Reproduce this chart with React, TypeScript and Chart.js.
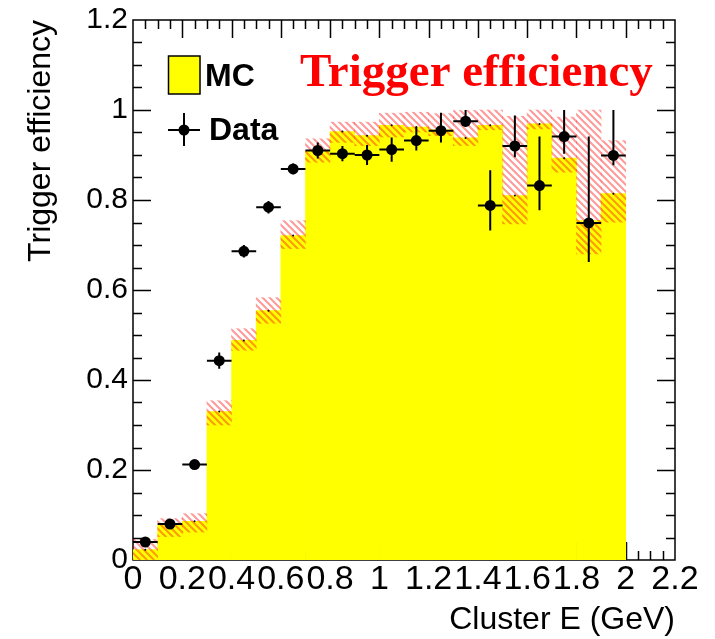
import React, { useEffect, useRef } from "react";
import { Chart, registerables } from "chart.js";

Chart.register(...registerables);

// ---- data ----
const binCenters = [0.05, 0.15, 0.25, 0.35, 0.45, 0.55, 0.65, 0.75, 0.85, 0.95, 1.05, 1.15, 1.25, 1.35, 1.45, 1.55, 1.65, 1.75, 1.85, 1.95];
const binHalfWidth = 0.05;

const mcEff = [0.023, 0.077, 0.086, 0.330, 0.488, 0.554, 0.721, 0.908, 0.952, 0.943, 0.966, 0.962, 0.956, 0.938, 0.966, 0.810, 0.969, 0.893, 0.754, 0.814];
const mcBandLow = [0.001, 0.052, 0.062, 0.300, 0.466, 0.526, 0.692, 0.884, 0.928, 0.921, 0.940, 0.951, 0.943, 0.921, 0.956, 0.747, 0.958, 0.862, 0.680, 0.751];
const mcBandHigh = [0.046, 0.092, 0.103, 0.354, 0.514, 0.583, 0.754, 0.936, 0.973, 0.973, 0.993, 0.995, 0.992, 0.999, 1.0, 0.986, 1.0, 0.984, 1.0, 0.932];

const dataEff = [0.040, 0.080, 0.212, 0.443, 0.686, 0.784, 0.869, 0.910, 0.903, 0.900, 0.912, 0.932, 0.954, 0.975, 0.788, 0.920, 0.832, 0.941, 0.749, 0.899];
const dataErrLow = [0.010, 0.006, 0.006, 0.018, 0.014, 0.014, 0.012, 0.018, 0.017, 0.022, 0.027, 0.022, 0.026, 0.013, 0.056, 0.025, 0.055, 0.038, 0.087, 0.022];
const dataErrHigh = [0.010, 0.006, 0.006, 0.018, 0.014, 0.014, 0.012, 0.018, 0.017, 0.022, 0.027, 0.030, 0.040, 0.025, 0.078, 0.068, 0.109, 0.059, 0.192, 0.101];

const xMin = 0, xMax = 2.2, xStep = 0.2, xMinor = 0.05;
const yMin = 0, yMax = 1.2, yStep = 0.2, yMinor = 0.05;

const titleText = "Trigger efficiency";
const xTitle = "Cluster E (GeV)";
const yTitle = "Trigger efficiency";
const legendMC = "MC";
const legendData = "Data";

const SANS = "'Liberation Sans', Arial, Helvetica, sans-serif";
const SERIF = "'Liberation Serif', 'Times New Roman', serif";

function makeHatch(): CanvasPattern | string {
  const s = 7;
  const c = document.createElement("canvas");
  c.width = s;
  c.height = s;
  const g = c.getContext("2d");
  if (!g) return "rgba(255,0,0,0.3)";
  g.strokeStyle = "rgba(255,0,0,0.4)";
  g.lineWidth = 2;
  g.beginPath();
  for (let k = -1; k <= 1; k++) {
    g.moveTo(k * s - 1, -1);
    g.lineTo(k * s + s + 1, s + 1);
  }
  g.stroke();
  return g.createPattern(c, "repeat") || "rgba(255,0,0,0.3)";
}

const framePlugin = {
  id: "rootFrame",
  beforeDatasetsDraw(chart: any) {
    const { ctx, chartArea, scales } = chart;
    const { left, right, top, bottom } = chartArea;
    const x = scales.x, y = scales.y;
    ctx.save();
    ctx.strokeStyle = "#000";
    ctx.lineWidth = 1.5;
    ctx.strokeRect(left, top, right - left, bottom - top);
    ctx.beginPath();
    const nY = Math.round((yMax - yMin) / yMinor);
    for (let k = 1; k < nY; k++) {
      const v = yMin + k * yMinor;
      const py = Math.round(y.getPixelForValue(v)) + 0.5;
      const major = k % Math.round(yStep / yMinor) === 0;
      const len = major ? 18 : 9;
      ctx.moveTo(left, py); ctx.lineTo(left + len, py);
      ctx.moveTo(right, py); ctx.lineTo(right - len, py);
    }
    const nX = Math.round((xMax - xMin) / xMinor);
    for (let k = 1; k < nX; k++) {
      const v = xMin + k * xMinor;
      const px = Math.round(x.getPixelForValue(v)) + 0.5;
      const major = k % Math.round(xStep / xMinor) === 0;
      const len = major ? 18 : 9;
      ctx.moveTo(px, top); ctx.lineTo(px, top + len);
      ctx.moveTo(px, bottom); ctx.lineTo(px, bottom - len);
    }
    ctx.stroke();
    ctx.restore();
  },
};

const errorBarPlugin = {
  id: "dataErrors",
  beforeDatasetDraw(chart: any, args: any) {
    const ds = chart.data.datasets[args.index];
    if (ds.label !== legendData) return;
    const { ctx, scales } = chart;
    const x = scales.x, y = scales.y;
    ctx.save();
    ctx.strokeStyle = "#000";
    ctx.lineWidth = 2;
    ctx.beginPath();
    dataEff.forEach((v, i) => {
      const c = binCenters[i];
      const cx = x.getPixelForValue(c);
      const cy = y.getPixelForValue(v);
      ctx.moveTo(x.getPixelForValue(c - binHalfWidth), cy);
      ctx.lineTo(x.getPixelForValue(c + binHalfWidth), cy);
      ctx.moveTo(cx, y.getPixelForValue(v - dataErrLow[i]));
      ctx.lineTo(cx, y.getPixelForValue(v + dataErrHigh[i]));
    });
    ctx.stroke();
    ctx.restore();
  },
};

const overlayPlugin = {
  id: "overlayText",
  afterDraw(chart: any) {
    const { ctx } = chart;
    ctx.save();
    // title
    ctx.fillStyle = "#ff0000";
    ctx.font = `bold 47px ${SERIF}`;
    ctx.textAlign = "left";
    ctx.textBaseline = "alphabetic";
    ctx.fillText(titleText, 300, 86);
    // legend MC
    ctx.fillStyle = "#ffff00";
    ctx.fillRect(168.5, 56, 31.5, 38);
    ctx.strokeStyle = "#000";
    ctx.lineWidth = 1.5;
    ctx.strokeRect(168.5, 56, 31.5, 38);
    ctx.fillStyle = "#000";
    ctx.font = `bold 32px ${SANS}`;
    ctx.fillText(legendMC, 205, 86);
    // legend Data
    ctx.lineWidth = 2;
    ctx.beginPath();
    ctx.moveTo(168, 130); ctx.lineTo(200, 130);
    ctx.moveTo(184, 113); ctx.lineTo(184, 146);
    ctx.stroke();
    ctx.beginPath();
    ctx.arc(184, 130, 5.5, 0, Math.PI * 2);
    ctx.fill();
    ctx.fillText(legendData, 209, 140);
    ctx.restore();
  },
};

function fmt(v: any) {
  return String(Number(Number(v).toFixed(1)));
}

export default function App() {
  const ref = useRef<HTMLCanvasElement | null>(null);
  useEffect(() => {
    if (!ref.current) return;
    const hatch = makeHatch();
    const chart = new Chart(ref.current, {
      type: "bar",
      data: {
        datasets: [
          {
            type: "scatter",
            label: legendData,
            data: binCenters.map((c, i) => ({ x: c, y: dataEff[i] })),
            pointRadius: 5.5,
            pointBorderWidth: 0,
            backgroundColor: "#000",
            borderColor: "#000",
            order: 0,
          } as any,
          {
            type: "scatter",
            label: "MC centre",
            data: binCenters.map((c, i) => ({ x: c, y: mcEff[i] })),
            pointRadius: 1,
            pointBorderWidth: 0,
            backgroundColor: "#000",
            borderColor: "#000",
            order: 1,
          } as any,
          {
            type: "bar",
            label: "MC uncertainty",
            data: binCenters.map((c, i) => ({ x: c, y: [mcBandLow[i], mcBandHigh[i]] })),
            backgroundColor: hatch,
            borderWidth: 0,
            grouped: false,
            barPercentage: 1,
            categoryPercentage: 1,
            order: 2,
          } as any,
          {
            type: "bar",
            label: legendMC,
            data: binCenters.map((c, i) => ({ x: c, y: mcEff[i] })),
            backgroundColor: "#ffff00",
            borderWidth: 0,
            grouped: false,
            barPercentage: 1,
            categoryPercentage: 1,
            order: 3,
          } as any,
        ],
      },
      options: {
        responsive: false,
        animation: false,
        events: [],
        devicePixelRatio: 1,
        layout: { padding: { left: 0, right: 40, top: 20, bottom: 0 } },
        plugins: {
          legend: { display: false },
          title: { display: false },
          tooltip: { enabled: false },
        },
        scales: {
          x: {
            type: "linear",
            min: xMin,
            max: xMax,
            offset: false,
            grid: { display: false, drawTicks: false },
            border: { display: false },
            ticks: {
              stepSize: xStep,
              autoSkip: false,
              maxRotation: 0,
              minRotation: 0,
              padding: -1,
              color: "#000",
              font: { family: SANS, size: 34 },
              callback: (v: any) => fmt(v),
            },
            title: {
              display: true,
              text: xTitle,
              align: "end",
              color: "#000",
              font: { family: SANS, size: 32 },
              padding: { top: 0, bottom: 0 },
            },
            afterFit: (s: any) => {
              s.height = 79;
              s.paddingLeft = 0;
              s.paddingRight = 0;
            },
          } as any,
          y: {
            type: "linear",
            min: yMin,
            max: yMax,
            grid: { display: false, drawTicks: false },
            border: { display: false },
            ticks: {
              stepSize: yStep,
              autoSkip: false,
              padding: 5,
              color: "#000",
              font: { family: SANS, size: 30 },
              callback: (v: any) => fmt(v),
            },
            title: {
              display: true,
              text: yTitle,
              align: "end",
              color: "#000",
              font: { family: SANS, size: 32 },
              padding: { top: 22, bottom: 0 },
            },
            afterFit: (s: any) => {
              s.width = 133;
              s.paddingTop = 0;
              s.paddingBottom = 0;
            },
          } as any,
        },
      },
      plugins: [framePlugin, errorBarPlugin, overlayPlugin],
    } as any);
    return () => chart.destroy();
  }, []);
  return (
    <div style={{ position: "absolute", left: 0, top: 0, width: 715, height: 639, background: "#fff" }}>
      <canvas ref={ref} width={715} height={639} />
    </div>
  );
}
